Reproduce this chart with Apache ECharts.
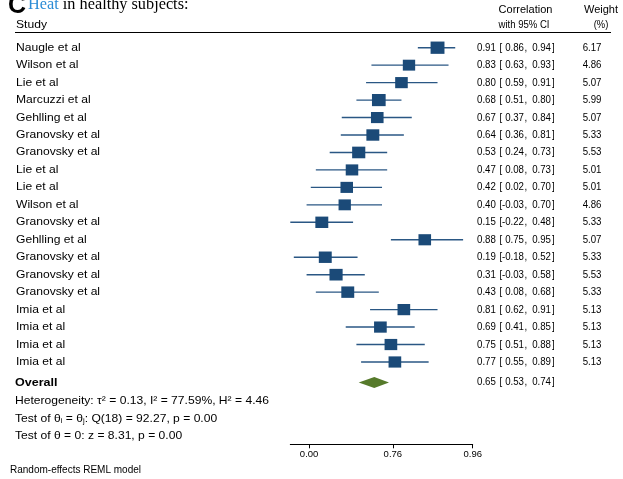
<!DOCTYPE html>
<html>
<head>
<meta charset="utf-8">
<script src="https://cdn.jsdelivr.net/npm/echarts@6/dist/echarts.min.js"></script>
<style>
  html, body { margin: 0; padding: 0; background: #fff; }
  #chart { width: 623px; height: 479px; }
</style>
</head>
<body>
<div id="chart"></div>
<script>
// Study-level correlations (heat, healthy subjects)
const studies = [
  'Naugle et al', 'Wilson et al', 'Lie et al', 'Marcuzzi et al', 'Gehlling et al',
  'Granovsky et al', 'Granovsky et al', 'Lie et al', 'Lie et al', 'Wilson et al',
  'Granovsky et al', 'Gehlling et al', 'Granovsky et al', 'Granovsky et al', 'Granovsky et al',
  'Imia et al', 'Imia et al', 'Imia et al', 'Imia et al'
];
const estimates = [0.91, 0.83, 0.80, 0.68, 0.67, 0.64, 0.53, 0.47, 0.42, 0.40, 0.15, 0.88, 0.19, 0.31, 0.43, 0.81, 0.69, 0.75, 0.77];
const lowerCI   = [0.86, 0.63, 0.59, 0.51, 0.37, 0.36, 0.24, 0.08, 0.02, -0.03, -0.22, 0.75, -0.18, -0.03, 0.08, 0.62, 0.41, 0.51, 0.55];
const upperCI   = [0.94, 0.93, 0.91, 0.80, 0.84, 0.81, 0.73, 0.73, 0.70, 0.70, 0.48, 0.95, 0.52, 0.58, 0.68, 0.91, 0.85, 0.88, 0.89];
const weights   = [6.17, 4.86, 5.07, 5.99, 5.07, 5.33, 5.53, 5.01, 5.01, 4.86, 5.33, 5.07, 5.33, 5.53, 5.33, 5.13, 5.13, 5.13, 5.13];

// Pooled estimate: [estimate, lower, upper]
const overallValues = [0.65, 0.53, 0.74];

// Heterogeneity and test statistics
const tau2 = 0.13, i2 = 77.59, h2 = 4.46;
const qDf = 18, qStat = 92.27, qP = 0.00;
const zStat = 8.31, zP = 0.00;

// Axis ticks, shown on the correlation scale
const tickValues = [0.00, 0.76, 0.96];

const FONT = "'Liberation Sans', Arial, Helvetica, sans-serif";
const BLUE = '#1b4a78';
const OVERALL_ROW = 19.17;

// Horizontal text stretch for the study column and the numeric columns
const NAME_SX = 1.1;
const NUM_SX = 0.88;

// Plot on the Fisher z scale
const rows = studies.map((s, i) => [i, Math.atanh(estimates[i]), Math.atanh(lowerCI[i]), Math.atanh(upperCI[i]), weights[i]]);
const xMin = Math.atanh(Math.min(...lowerCI));
const xMax = Math.atanh(Math.max(...tickValues));

function textEl(x, y, text, opts, sx) {
  return {
    type: 'text',
    x: x, y: y,
    scaleX: sx || 1,
    silent: true,
    style: Object.assign({
      text: text,
      font: '11px ' + FONT,
      fill: '#000',
      textAlign: 'left',
      textVerticalAlign: 'middle'
    }, opts || {})
  };
}

// Estimate and interval columns for one row
function ciTexts(y, est, lo, hi) {
  return [
    textEl(477, y, est.toFixed(2), null, NUM_SX),
    textEl(499.5, y, '[', null, NUM_SX),
    textEl(524, y, lo.toFixed(2), { textAlign: 'right' }, NUM_SX),
    textEl(524.5, y, ',', null, NUM_SX),
    textEl(551, y, hi.toFixed(2), { textAlign: 'right' }, NUM_SX),
    textEl(552, y, ']', null, NUM_SX)
  ];
}

const chart = echarts.init(document.getElementById('chart'), null, { renderer: 'canvas' });

chart.setOption({
  animation: false,
  backgroundColor: '#fff',
  grid: { left: 290.3, right: 150.3, top: 30.24, height: 414.06, containLabel: false },
  xAxis: {
    type: 'value',
    min: xMin,
    max: xMax,
    position: 'bottom',
    splitLine: { show: false },
    axisLine: { show: true, onZero: false, lineStyle: { color: '#000', width: 1 } },
    axisTick: { show: true, length: 4, customValues: tickValues.map(v => Math.atanh(v)), lineStyle: { color: '#000' } },
    axisLabel: {
      show: true,
      customValues: tickValues.map(v => Math.atanh(v)),
      formatter: v => Math.tanh(v).toFixed(2),
      fontFamily: FONT, fontSize: 9.5, color: '#000', margin: 5
    }
  },
  yAxis: {
    type: 'value', inverse: true, min: -1, max: 22.714, show: false
  },
  series: [
    {
      type: 'custom',
      data: rows,
      encode: { x: [1, 2, 3], y: 0 },
      clip: false,
      renderItem: function (params, api) {
        const i = api.value(0);
        const c = api.coord([api.value(1), i]);
        const lo = api.coord([api.value(2), i]);
        const hi = api.coord([api.value(3), i]);
        const w = api.value(4);
        const h = 4.95 * Math.sqrt(w);
        const wd = 1.13 * h;
        const y = c[1];
        return {
          type: 'group',
          children: [
            { type: 'line', shape: { x1: lo[0], y1: y, x2: hi[0], y2: y }, style: { stroke: '#2a5784', lineWidth: 1.4 } },
            { type: 'rect', shape: { x: c[0] - wd / 2, y: y - h / 2, width: wd, height: h }, style: { fill: BLUE } },
            textEl(16, y, studies[i], null, NAME_SX),
            ...ciTexts(y, estimates[i], lowerCI[i], upperCI[i]),
            textEl(601.5, y, weights[i].toFixed(2), { textAlign: 'right' }, NUM_SX)
          ]
        };
      }
    },
    {
      type: 'custom',
      data: [[OVERALL_ROW, Math.atanh(overallValues[0]), Math.atanh(overallValues[1]), Math.atanh(overallValues[2])]],
      encode: { x: [1, 2, 3], y: 0 },
      clip: false,
      renderItem: function (params, api) {
        const r = api.value(0);
        const c = api.coord([api.value(1), r]);
        const lo = api.coord([api.value(2), r]);
        const hi = api.coord([api.value(3), r]);
        const y = c[1];
        const hh = 5.5;
        return {
          type: 'group',
          children: [
            { type: 'polygon', shape: { points: [[lo[0], y], [c[0], y - hh], [hi[0], y], [c[0], y + hh]] }, style: { fill: '#567a2b' } },
            textEl(15, y + 1, 'Overall', { font: 'bold 11px ' + FONT }, 1.14),
            ...ciTexts(y, overallValues[0], overallValues[1], overallValues[2])
          ]
        };
      }
    }
  ],
  graphic: [
    // Panel title
    textEl(8, 6, 'C', { font: 'bold 25px ' + FONT }),
    textEl(28, 4.5, '{h|Heat} in healthy subjects:', {
      font: '16.3px "Liberation Serif", "Times New Roman", serif',
      rich: { h: { fill: '#2b8cd6', font: '16.3px "Liberation Serif", "Times New Roman", serif' } }
    }),
    // Column headers
    textEl(16, 25, 'Study', null, NAME_SX),
    textEl(525.5, 9.5, 'Correlation', { textAlign: 'center' }),
    textEl(524, 25, 'with 95% CI', { textAlign: 'center' }, 0.87),
    textEl(601, 9.5, 'Weight', { textAlign: 'center' }),
    textEl(601, 25, '(%)', { textAlign: 'center' }, 0.85),
    { type: 'line', silent: true, shape: { x1: 15, y1: 32.5, x2: 611, y2: 32.5 }, style: { stroke: '#000', lineWidth: 1 } },
    // Summary statistics
    textEl(15, 401, 'Heterogeneity: \u03c4\u00b2 = ' + tau2.toFixed(2) + ', I\u00b2 = ' + i2.toFixed(2) + '%, H\u00b2 = ' + h2.toFixed(2), null, NAME_SX),
    textEl(15, 419, 'Test of \u03b8{s|i} = \u03b8{s|j}: Q(' + qDf + ') = ' + qStat.toFixed(2) + ', p = ' + qP.toFixed(2), {
      rich: { s: { font: '7px ' + FONT, fill: '#000', verticalAlign: 'bottom', lineHeight: 9 } }
    }, NAME_SX),
    textEl(15, 436, 'Test of \u03b8 = 0: z = ' + zStat.toFixed(2) + ', p = ' + zP.toFixed(2), null, NAME_SX),
    textEl(10, 470, 'Random-effects REML model', { font: '10px ' + FONT })
  ]
});
</script>
</body>
</html>
